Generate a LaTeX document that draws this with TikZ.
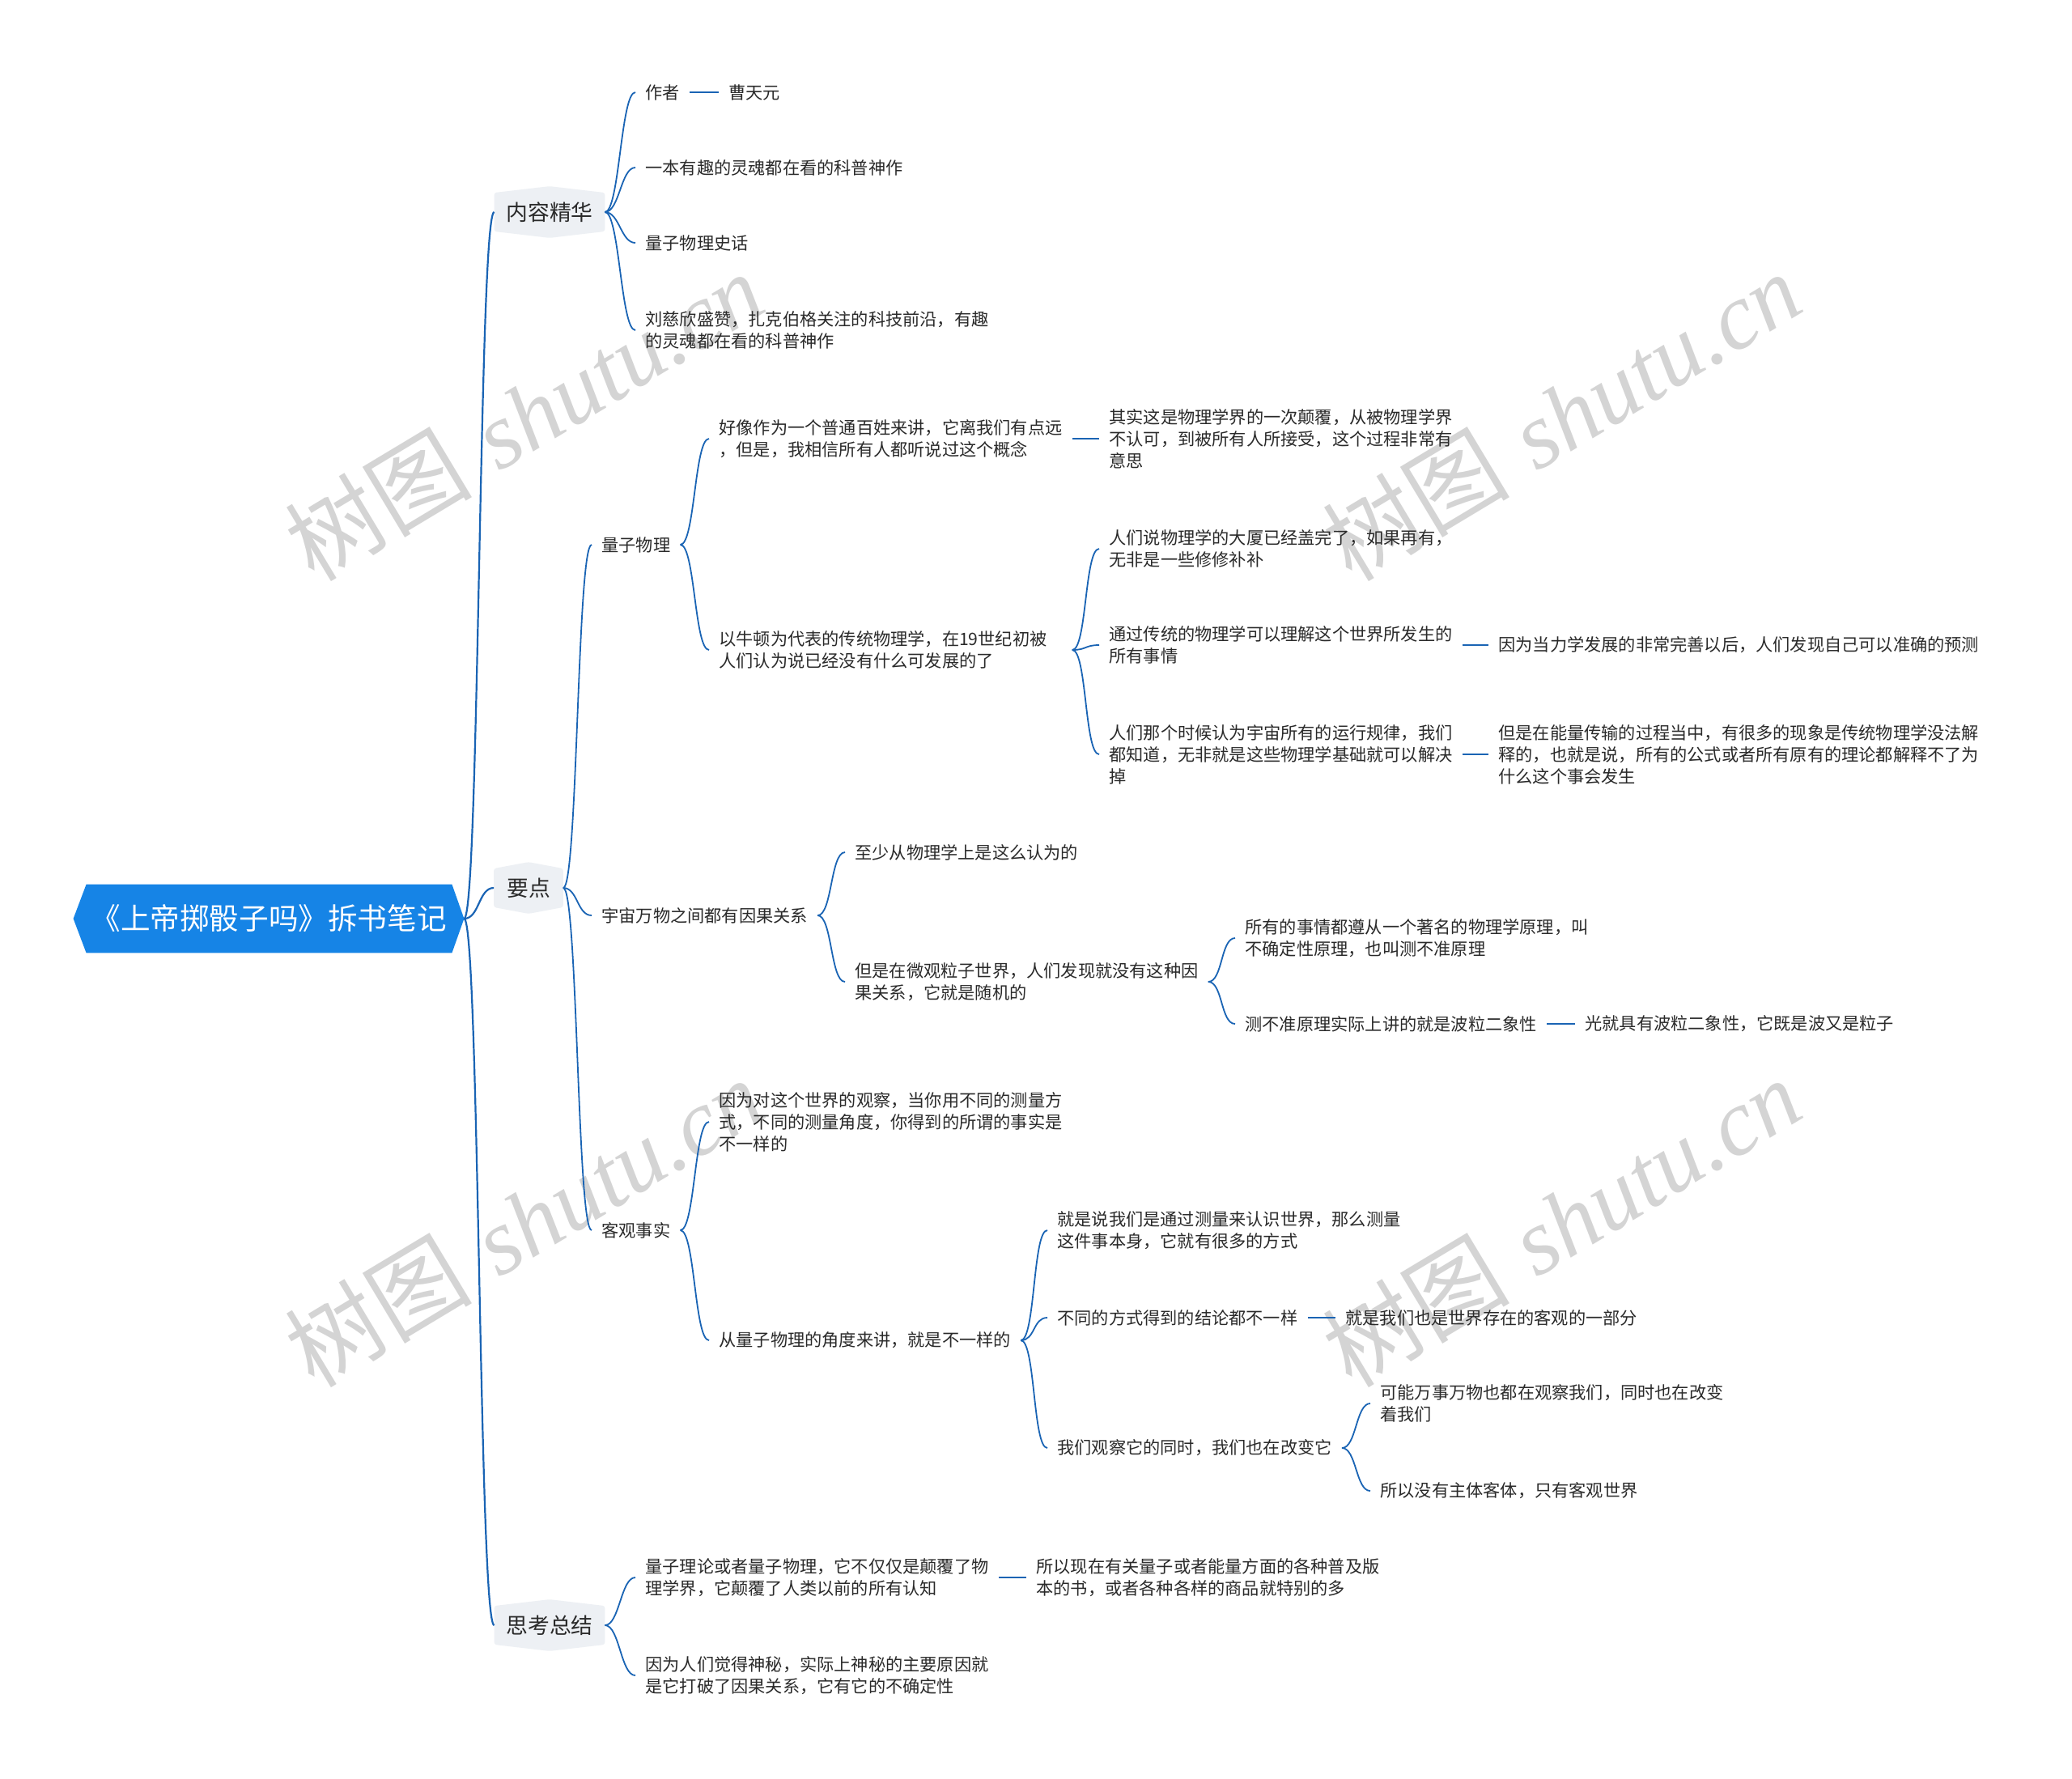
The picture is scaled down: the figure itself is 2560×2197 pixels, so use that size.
\documentclass[tikz,border=0pt]{standalone}
\usepackage{fontspec}
\setmainfont{Noto Sans CJK SC}
\newfontfamily\wmlatin{Liberation Serif}
\usetikzlibrary{calc,backgrounds}
\definecolor{linec}{HTML}{1A64B4}
\definecolor{rootc}{HTML}{1684E6}
\definecolor{lvfill}{HTML}{EDF0F4}
\definecolor{txt}{HTML}{2A2A2A}
\definecolor{wmc}{HTML}{D4D4D4}
\tikzset{
  leaf/.style={anchor=west, inner xsep=6pt, inner ysep=2pt, align=left, text=txt,
    font=\fontsize{10.6pt}{13.5pt}\selectfont},
  lvone/.style={inner sep=0pt, minimum height=23.5pt, minimum width=68pt, text=txt,
    font=\fontsize{13.4pt}{16pt}\selectfont},
  rootn/.style={inner sep=0pt, minimum width=241pt, minimum height=42pt, text=white,
    font=\fontsize{18.3pt}{21pt}\selectfont},
  wm/.style={text=wmc, font=\fontsize{58pt}{58pt}\selectfont},
  conn/.style={draw=linec, line width=0.9pt},
  rconn/.style={draw=linec, line width=1.1pt},
  dashc/.style={draw=linec, line width=1.1pt},
  crv/.style={to path={.. controls ($(\tikztostart)+(#1,0)$) and ($(\tikztotarget)+(-#1,0)$) .. (\tikztotarget)}}
}
\newcommand\hexfill[1]{\fill[lvfill, rounded corners=1.5pt] (#1.north west) -- ($(#1.north)+(0,-8)$) -- (#1.north east) -- (#1.south east) -- ($(#1.south)+(0,8)$) -- (#1.south west) -- cycle;}
\begin{document}
\begin{tikzpicture}[x=0.5pt,y=-0.5pt]
\begin{scope}[on background layer]
\fill[white] (0,0) rectangle (2560,2197);
\end{scope}
\useasboundingbox (0,0) rectangle (2560,2197);

% watermarks
\node[wm, rotate=31] (wm1) at (647,514) {树图\hspace{0.3em}{\wmlatin\itshape shutu.cn}};
\node[wm, rotate=31] (wm2) at (1929,514) {树图\hspace{0.3em}{\wmlatin\itshape shutu.cn}};
\node[wm, rotate=31] (wm3) at (647,1510) {树图\hspace{0.3em}{\wmlatin\itshape shutu.cn}};
\node[wm, rotate=31] (wm4) at (1929,1510) {树图\hspace{0.3em}{\wmlatin\itshape shutu.cn}};

% root and level one
\node[rootn] (root) at (332,1135) {《上帝掷骰子吗》拆书笔记};
\node[lvone] (A) at (679,262) {内容精华};
\node[lvone, minimum width=42.5pt] (B) at (653,1097) {要点};
\node[lvone] (C) at (679,2008) {思考总结};

% 内容精华
\node[leaf] (a1) at (785,114) {作者};
\node[leaf] (a1b) at (888,114) {曹天元};
\node[leaf] (a2) at (785,207) {一本有趣的灵魂都在看的科普神作};
\node[leaf] (a3) at (785,300) {量子物理史话};
\node[leaf] (a4) at (785,408) {刘慈欣盛赞，扎克伯格关注的科技前沿，有趣\\的灵魂都在看的科普神作};

% 要点 - 量子物理
\node[leaf] (b1) at (731,673) {量子物理};
\node[leaf] (b11) at (876,542) {好像作为一个普通百姓来讲，它离我们有点远\\，但是，我相信所有人都听说过这个概念};
\node[leaf] (b111) at (1358,542) {其实这是物理学界的一次颠覆，从被物理学界\\不认可，到被所有人所接受，这个过程非常有\\意思};
\node[leaf, text width=212pt] (b12) at (876,803) {以牛顿为代表的传统物理学，在19世纪初被\\人们认为说已经没有什么可发展的了};
\node[leaf] (b121) at (1358,678) {人们说物理学的大厦已经盖完了，如果再有，\\无非是一些修修补补};
\node[leaf] (b122) at (1358,797) {通过传统的物理学可以理解这个世界所发生的\\所有事情};
\node[leaf] (b1221) at (1839,797) {因为当力学发展的非常完善以后，人们发现自己可以准确的预测};
\node[leaf] (b123) at (1358,932) {人们那个时候认为宇宙所有的运行规律，我们\\都知道，无非就是这些物理学基础就可以解决\\掉};
\node[leaf] (b1231) at (1839,932) {但是在能量传输的过程当中，有很多的现象是传统物理学没法解\\释的，也就是说，所有的公式或者所有原有的理论都解释不了为\\什么这个事会发生};

% 要点 - 宇宙万物
\node[leaf] (b2) at (731,1131) {宇宙万物之间都有因果关系};
\node[leaf] (b21) at (1044,1053) {至少从物理学上是这么认为的};
\node[leaf] (b22) at (1044,1213) {但是在微观粒子世界，人们发现就没有这种因\\果关系，它就是随机的};
\node[leaf] (b221) at (1526,1159) {所有的事情都遵从一个著名的物理学原理，叫\\不确定性原理，也叫测不准原理};
\node[leaf] (b222) at (1526,1265) {测不准原理实际上讲的就是波粒二象性};
\node[leaf] (b2221) at (1946,1265) {光就具有波粒二象性，它既是波又是粒子};

% 要点 - 客观事实
\node[leaf] (b3) at (731,1520) {客观事实};
\node[leaf] (b31) at (876,1386) {因为对这个世界的观察，当你用不同的测量方\\式，不同的测量角度，你得到的所谓的事实是\\不一样的};
\node[leaf] (b32) at (876,1656) {从量子物理的角度来讲，就是不一样的};
\node[leaf] (b321) at (1294,1520) {就是说我们是通过测量来认识世界，那么测量\\这件事本身，它就有很多的方式};
\node[leaf] (b322) at (1294,1628) {不同的方式得到的结论都不一样};
\node[leaf] (b3221) at (1650,1628) {就是我们也是世界存在的客观的一部分};
\node[leaf] (b323) at (1294,1789) {我们观察它的同时，我们也在改变它};
\node[leaf] (b3231) at (1693,1734) {可能万事万物也都在观察我们，同时也在改变\\着我们};
\node[leaf] (b3232) at (1693,1842) {所以没有主体客体，只有客观世界};

% 思考总结
\node[leaf] (c1) at (785,1949) {量子理论或者量子物理，它不仅仅是颠覆了物\\理学界，它颠覆了人类以前的所有认知};
\node[leaf] (c11) at (1268,1949) {所以现在有关量子或者能量方面的各种普及版\\本的书，或者各种各样的商品就特别的多};
\node[leaf] (c2) at (785,2070) {因为人们觉得神秘，实际上神秘的主要原因就\\是它打破了因果关系，它有它的不确定性};

% shapes behind
\begin{scope}[on background layer]
\fill[rootc] (root.west) -- ($(root.north west)+(16,0)$) -- ($(root.north east)+(-15,0)$) -- (root.east) -- ($(root.south east)+(-15,0)$) -- ($(root.south west)+(16,0)$) -- cycle;
\hexfill{A}
\hexfill{B}
\hexfill{C}
\end{scope}

% connectors
\draw[rconn, crv=19] (root.east) to (A.west);
\draw[rconn, crv=19] (root.east) to (B.west);
\draw[rconn, crv=19] (root.east) to (C.west);

\draw[conn, crv=18] (A.east) to (a1.west);
\draw[conn, crv=18] (A.east) to (a2.west);
\draw[conn, crv=18] (A.east) to (a3.west);
\draw[conn, crv=18] (A.east) to (a4.west);
\draw[dashc] (a1.east) -- (a1b.west);

\draw[conn, crv=18] (B.east) to (b1.west);
\draw[conn, crv=18] (B.east) to (b2.west);
\draw[conn, crv=18] (B.east) to (b3.west);

\draw[conn, crv=18] (b1.east) to (b11.west);
\draw[conn, crv=18] (b1.east) to (b12.west);
\draw[dashc] (b11.east) -- (b111.west);
\draw[conn, crv=18] (b12.east) to (b121.west);
\draw[conn, crv=18] (b12.east) to (b122.west);
\draw[conn, crv=18] (b12.east) to (b123.west);
\draw[dashc] (b122.east) -- (b1221.west);
\draw[dashc] (b123.east) -- (b1231.west);

\draw[conn, crv=18] (b2.east) to (b21.west);
\draw[conn, crv=18] (b2.east) to (b22.west);
\draw[conn, crv=18] (b22.east) to (b221.west);
\draw[conn, crv=18] (b22.east) to (b222.west);
\draw[dashc] (b222.east) -- (b2221.west);

\draw[conn, crv=18] (b3.east) to (b31.west);
\draw[conn, crv=18] (b3.east) to (b32.west);
\draw[conn, crv=18] (b32.east) to (b321.west);
\draw[conn, crv=18] (b32.east) to (b322.west);
\draw[conn, crv=18] (b32.east) to (b323.west);
\draw[dashc] (b322.east) -- (b3221.west);
\draw[conn, crv=18] (b323.east) to (b3231.west);
\draw[conn, crv=18] (b323.east) to (b3232.west);

\draw[conn, crv=18] (C.east) to (c1.west);
\draw[conn, crv=18] (C.east) to (c2.west);
\draw[dashc] (c1.east) -- (c11.west);
\end{tikzpicture}
\end{document}
